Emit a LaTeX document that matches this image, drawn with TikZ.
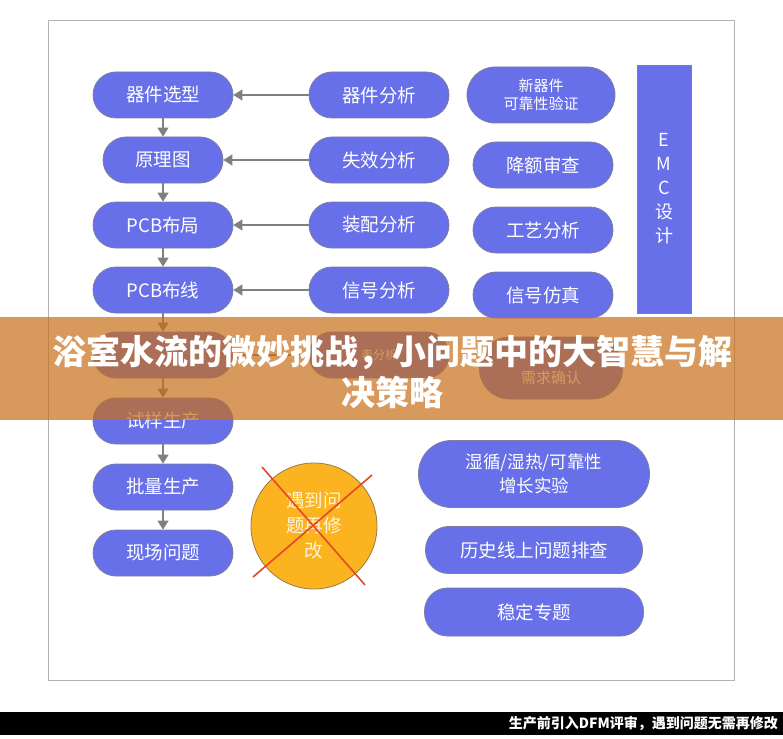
\documentclass[tikz,border=0pt]{standalone}
\usepackage{fontspec}
\setmainfont{Noto Sans CJK SC}
\usetikzlibrary{arrows.meta,positioning}
\definecolor{pillblue}{RGB}{103,112,232}
\definecolor{pilledge}{RGB}{125,125,160}
\definecolor{arrowgray}{RGB}{128,128,128}
\definecolor{fixorange}{RGB}{251,180,32}
\definecolor{fixedge}{RGB}{150,125,70}
\definecolor{crossred}{RGB}{228,72,40}
\definecolor{bandtan}{RGB}{200,110,25}

\begin{document}
\begin{tikzpicture}[x=1pt,y=-1pt,
    pill/.style={draw=pilledge,fill=pillblue,line width=0.8pt,text=white,
      rounded corners=23pt,minimum height=46pt,minimum width=140pt,inner sep=0pt,
      font=\fontsize{18.5}{22}\selectfont,align=center},
    smallpill/.style={pill,font=\fontsize{15}{18}\selectfont,rounded corners=28pt,minimum height=56pt},
    arr/.style={draw=arrowgray,line width=1.4pt,-{Triangle[width=11pt,length=9pt]}},
    title/.style={text=white,font=\bfseries\fontsize{34}{38}\selectfont,inner sep=0pt}]
    \useasboundingbox (0,0) rectangle (783,738);
    \fill[white] (0,0) rectangle (783,738);
    \draw[gray!60,line width=1pt] (48,21) rectangle (734,680);

    \node[pill] (sel) at (163,95) {器件选型};
    \node[pill,minimum width=120pt] (sch) at (163,160) {原理图};
    \node[pill] (lay) at (163,225) {PCB布局};
    \node[pill] (route) at (163,290) {PCB布线};
    \node[pill] (hidl) at (163,355) {};
    \node[pill] (trial) at (163,421) {试样生产};
    \node[pill] (mass) at (163,487) {批量生产};
    \node[pill] (field) at (163,553) {现场问题};

    \node[pill] (devana) at (379,95) {器件分析};
    \node[pill] (failana) at (379,160) {失效分析};
    \node[pill] (asmana) at (379,225) {装配分析};
    \node[pill] (sigana) at (379,290) {信号分析};
    \node[pill,font=\fontsize{12}{14}\selectfont] (hidm) at (379,355) {表分析};

    \node[smallpill,minimum width=148pt] (newrel) at (541,95) {新器件\\可靠性验证};
    \node[pill] (derate) at (543,165) {降额审查};
    \node[pill] (procana) at (543,230) {工艺分析};
    \node[pill] (sigsim) at (543,295) {信号仿真};
    \node[smallpill,minimum width=143pt,minimum height=62pt,rounded corners=30pt] (req) at (551,368) {\strut\\需求确认};

    \node[draw=pilledge,fill=pillblue,line width=0.8pt,text=white,minimum width=54pt,minimum height=248pt,
      inner sep=0pt,align=center,font=\fontsize{18}{24}\selectfont] (emc) at (664,189) {E\\M\\C\\设\\计};

    \node[pill,minimum width=231pt,minimum height=67pt,rounded corners=33pt,font=\fontsize{17.5}{24}\selectfont] (humid) at (534,474) {湿循/湿热/可靠性\\增长实验};
    \node[pill,minimum width=217pt,minimum height=47pt] (hist) at (534,550) {历史线上问题排查};
    \node[pill,minimum width=219pt,minimum height=48pt] (stable) at (534,612) {稳定专题};

    \node[circle,draw=fixedge,fill=fixorange,line width=0.8pt,minimum size=126pt,inner sep=0pt,
      text={rgb,255:red,255;green,244;blue,215},align=center,font=\fontsize{18.5}{25}\selectfont] (fix) at (314,526) {遇到问\\题再修\\改};
    \draw[crossred,line width=1.6pt] (262,467) -- (365,585);
    \draw[crossred,line width=1.6pt] (372,475) -- (253,577);

    \draw[arr] (sel) -- (sch);
    \draw[arr] (sch) -- (lay);
    \draw[arr] (lay) -- (route);
    \draw[arr] (route) -- (hidl);
    \draw[arr] (hidl) -- (trial);
    \draw[arr] (trial) -- (mass);
    \draw[arr] (mass) -- (field);
    \draw[arr] (devana) -- (sel);
    \draw[arr] (failana) -- (sch);
    \draw[arr] (asmana) -- (lay);
    \draw[arr] (sigana) -- (route);
    \draw[arr] (hidm) -- (hidl);

    \fill[bandtan,opacity=0.7] (0,317) rectangle (783,420);
    \node[title] (ttl) at (392,352) {浴室水流的微妙挑战，小问题中的大智慧与解};
    \node[title] (ttl2) at (392,392) {决策略};

    \fill[black] (0,712) rectangle (783,735);
    \node[anchor=east,text=white,inner sep=0pt,font=\bfseries\fontsize{14}{16}\selectfont] (foot) at (778,723.5) {生产前引入DFM评审，遇到问题无需再修改};
\end{tikzpicture}
\end{document}
